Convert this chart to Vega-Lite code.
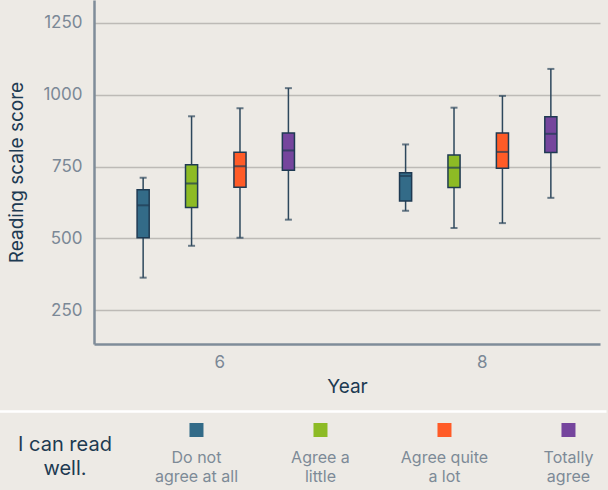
{
  "$schema": "https://vega.github.io/schema/vega-lite/v6.json",
  "background": "#edeae5",
  "padding": {"left": 7, "top": 0, "right": 0, "bottom": 0},
  "autosize": {"type": "pad"},
  "columns": 1,
  "spacing": 15,
  "config": {
    "view": {"stroke": null},
    "font": "Inter",
    "text": {"font": "Inter"}
  },
  "datasets": {
    "scores": [
      {"year": "6", "agreement": "Do not agree at all", "min": 363, "q1": 502, "median": 615, "q3": 669, "max": 711},
      {"year": "6", "agreement": "Agree a little", "min": 474, "q1": 607, "median": 691, "q3": 756, "max": 925},
      {"year": "6", "agreement": "Agree quite a lot", "min": 502, "q1": 678, "median": 751, "q3": 800, "max": 953},
      {"year": "6", "agreement": "Totally agree", "min": 565, "q1": 737, "median": 806, "q3": 867, "max": 1023},
      {"year": "8", "agreement": "Do not agree at all", "min": 596, "q1": 630, "median": 717, "q3": 728, "max": 827},
      {"year": "8", "agreement": "Agree a little", "min": 536, "q1": 677, "median": 746, "q3": 790, "max": 955},
      {"year": "8", "agreement": "Agree quite a lot", "min": 553, "q1": 744, "median": 801, "q3": 867, "max": 996},
      {"year": "8", "agreement": "Totally agree", "min": 641, "q1": 799, "median": 864, "q3": 923, "max": 1090}
    ],
    "key": [
      {"slot": "Do not agree at all", "label": "Do not\nagree at all"},
      {"slot": "Agree a little", "label": "Agree a\nlittle"},
      {"slot": "Agree quite a lot", "label": "Agree quite\na lot"},
      {"slot": "Totally agree", "label": "Totally\nagree"}
    ]
  },
  "concat": [
    {
      "width": 506,
      "height": 344,
      "data": {"name": "scores"},
      "encoding": {
        "x": {
          "field": "year",
          "type": "ordinal",
          "title": "Year",
          "scale": {"paddingInner": 0.262, "paddingOuter": 0.095},
          "axis": {
            "labelAngle": 0,
            "ticks": false,
            "grid": false,
            "labelPadding": 10,
            "labelOffset": 4,
            "labelFontSize": 17,
            "labelColor": "#7b8896",
            "titleFontSize": 19,
            "titleFontWeight": "normal",
            "titleColor": "#1d3a52",
            "titlePadding": 7,
            "domainColor": "#7f8c99",
            "domainWidth": 2.5
          }
        },
        "xOffset": {
          "field": "agreement",
          "type": "nominal",
          "sort": ["Do not agree at all", "Agree a little", "Agree quite a lot", "Totally agree"],
          "scale": {"paddingInner": 0.75, "paddingOuter": 0.375}
        }
      },
      "layer": [
        {
          "mark": {"type": "rule", "color": "#2d475c", "strokeWidth": 1.5},
          "encoding": {
            "y": {
              "field": "min",
              "type": "quantitative",
              "title": "Reading scale score",
              "scale": {"domain": [132, 1330], "nice": false, "zero": false},
              "axis": {
                "values": [250, 500, 750, 1000, 1250],
                "format": "d",
                "ticks": false,
                "grid": true,
                "gridColor": "#bdbab6",
                "gridWidth": 1.5,
                "labelPadding": 12,
                "labelFontSize": 17,
                "labelColor": "#7b8896",
                "titleFontSize": 19,
                "titleFontWeight": "normal",
                "titleColor": "#1d3a52",
                "titlePadding": 16,
                "domainColor": "#7f8c99",
                "domainWidth": 2.5
              }
            },
            "y2": {"field": "max"}
          }
        },
        {
          "mark": {"type": "tick", "color": "#2d475c", "size": 7, "thickness": 2},
          "encoding": {
            "y": {"field": "min", "type": "quantitative", "title": "Reading scale score", "scale": {"domain": [132, 1330], "nice": false, "zero": false}}
          }
        },
        {
          "mark": {"type": "tick", "color": "#2d475c", "size": 7, "thickness": 2},
          "encoding": {
            "y": {"field": "max", "type": "quantitative", "title": "Reading scale score", "scale": {"domain": [132, 1330], "nice": false, "zero": false}}
          }
        },
        {
          "mark": {"type": "bar", "stroke": "#1f3a52", "strokeWidth": 1.5, "opacity": 1},
          "encoding": {
            "y": {"field": "q1", "type": "quantitative", "title": "Reading scale score", "scale": {"domain": [132, 1330], "nice": false, "zero": false}},
            "y2": {"field": "q3"},
            "color": {
              "field": "agreement",
              "type": "nominal",
              "scale": {
                "domain": ["Do not agree at all", "Agree a little", "Agree quite a lot", "Totally agree"],
                "range": ["#336b88", "#8dbb25", "#ff5b27", "#75459d"]
              },
              "legend": null
            }
          }
        },
        {
          "mark": {"type": "tick", "color": "#1f3a52", "size": 12, "thickness": 2},
          "encoding": {
            "y": {"field": "median", "type": "quantitative", "title": "Reading scale score", "scale": {"domain": [132, 1330], "nice": false, "zero": false}}
          }
        }
      ]
    },
    {
      "width": 506,
      "height": 79,
      "encoding": {
        "x": {
          "field": "slot",
          "type": "nominal",
          "scale": {
            "type": "point",
            "domain": ["I can read well.", "Do not agree at all", "Agree a little", "Agree quite a lot", "Totally agree"],
            "range": [-95, 512],
            "padding": 0.4476,
            "align": 0.662
          },
          "axis": {
            "orient": "top",
            "labels": false,
            "ticks": false,
            "grid": false,
            "title": null,
            "domainColor": "#ffffff",
            "domainWidth": 2.5
          }
        }
      },
      "layer": [
        {
          "data": {"name": "key"},
          "mark": {"type": "point", "shape": "square", "filled": true, "opacity": 1, "size": 196, "yOffset": -20.5},
          "encoding": {
            "color": {
              "field": "slot",
              "type": "nominal",
              "scale": {
                "domain": ["Do not agree at all", "Agree a little", "Agree quite a lot", "Totally agree"],
                "range": ["#336b88", "#8dbb25", "#ff5b27", "#75459d"]
              },
              "legend": null
            }
          }
        },
        {
          "data": {"name": "key"},
          "mark": {"type": "text", "lineBreak": "\n", "fontSize": 16, "color": "#7d8a97", "align": "center", "baseline": "alphabetic", "dy": 12.5, "lineHeight": 19},
          "encoding": {"text": {"field": "label"}}
        },
        {
          "data": {"values": [{"slot": "I can read well.", "label": "I can read\nwell."}]},
          "mark": {"type": "text", "lineBreak": "\n", "fontSize": 20, "color": "#1d3a52", "align": "center", "baseline": "alphabetic", "dx": -7.5, "dy": 0.5, "lineHeight": 24},
          "encoding": {"text": {"field": "label"}}
        }
      ]
    }
  ]
}
